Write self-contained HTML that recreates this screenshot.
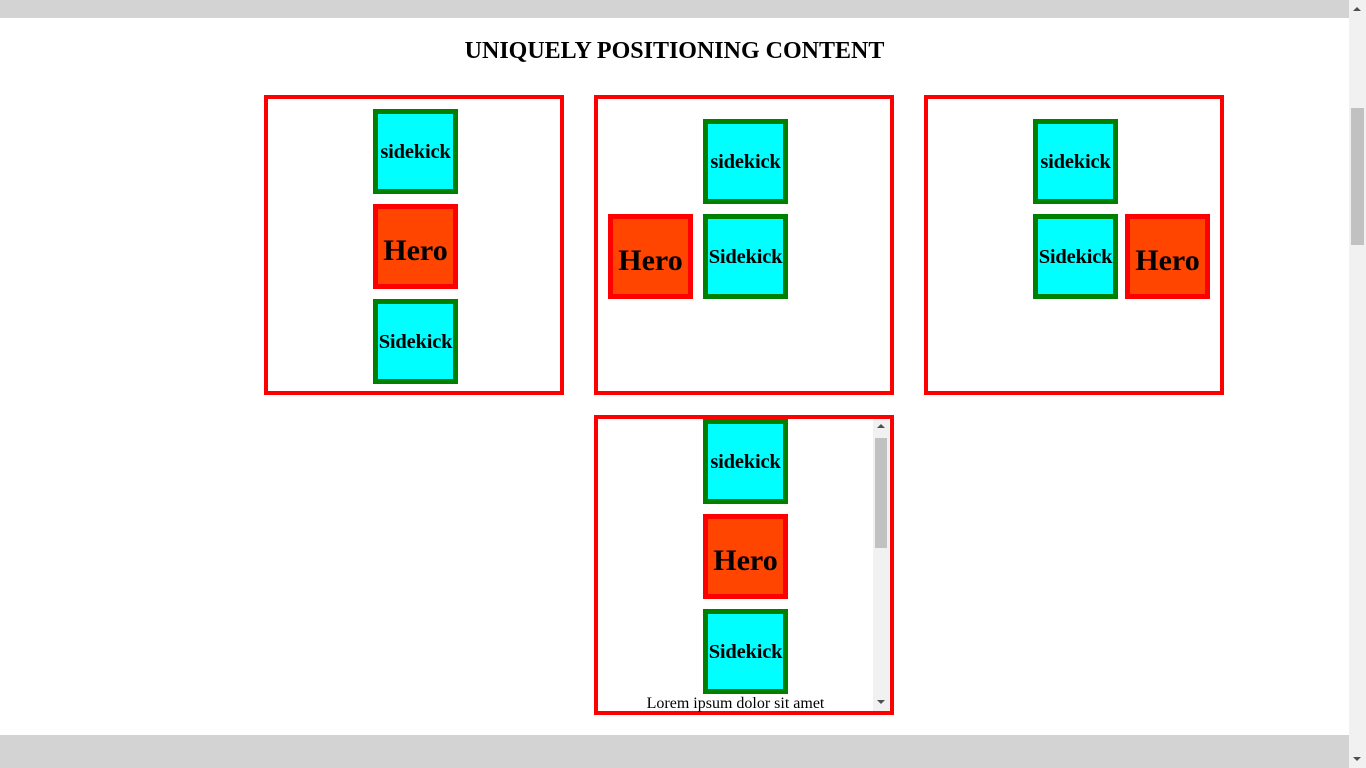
<!DOCTYPE html>
<html><head><style>
body{margin:0;width:1366px;height:768px;position:relative;overflow:hidden;background:#fff;font-family:"Liberation Serif",serif;}
.a{position:absolute;box-sizing:border-box;}
.box{border:4px solid red;width:300px;height:300px;}
.s{width:85px;height:85px;border:5px solid #008000;background:#0ff;font-weight:bold;font-size:20.5px;display:flex;align-items:center;justify-content:center;white-space:nowrap;padding-top:2px;letter-spacing:-0.2px}
.h{width:85px;height:85px;border:5px solid red;background:#ff4500;font-weight:bold;font-size:30px;display:flex;align-items:center;justify-content:center;padding-top:9px;}
</style></head><body>
<div class="a" style="left:0;top:0;width:1366px;height:18px;background:#d3d3d3"></div>
<div class="a" style="left:0;top:735px;width:1366px;height:33px;background:#d3d3d3"></div>
<div class="a" style="left:1349px;top:0;width:17px;height:768px;background:#f1f1f1"></div>
<div class="a" style="left:1351px;top:108px;width:13px;height:137px;background:#c1c1c1"></div>
<div class="a" style="left:1353px;top:7px;width:0;height:0;border-left:4px solid transparent;border-right:4px solid transparent;border-bottom:4px solid #505050"></div>
<div class="a" style="left:1353px;top:757px;width:0;height:0;border-left:4px solid transparent;border-right:4px solid transparent;border-top:4px solid #505050"></div>
<div class="a" style="left:0;top:38px;width:1349px;text-align:center;font-weight:bold;font-size:24px">UNIQUELY POSITIONING CONTENT</div>

<div class="a box" style="left:264px;top:95px"></div>
<div class="a s" style="left:373px;top:109px">sidekick</div>
<div class="a h" style="left:373px;top:204px">Hero</div>
<div class="a s" style="left:373px;top:299px">Sidekick</div>

<div class="a box" style="left:594px;top:95px"></div>
<div class="a s" style="left:703px;top:119px">sidekick</div>
<div class="a h" style="left:608px;top:214px">Hero</div>
<div class="a s" style="left:703px;top:214px">Sidekick</div>

<div class="a box" style="left:924px;top:95px"></div>
<div class="a s" style="left:1033px;top:119px">sidekick</div>
<div class="a s" style="left:1033px;top:214px">Sidekick</div>
<div class="a h" style="left:1125px;top:214px">Hero</div>

<div class="a box" style="left:594px;top:415px"></div>
<div class="a" style="left:873px;top:419px;width:16px;height:292px;background:#f1f1f1"></div>
<div class="a" style="left:875px;top:438px;width:12px;height:110px;background:#c1c1c1"></div>
<div class="a" style="left:877px;top:424px;width:0;height:0;border-left:4px solid transparent;border-right:4px solid transparent;border-bottom:4px solid #505050"></div>
<div class="a" style="left:877px;top:700px;width:0;height:0;border-left:4px solid transparent;border-right:4px solid transparent;border-top:4px solid #505050"></div>
<div class="a s" style="left:703px;top:419px">sidekick</div>
<div class="a h" style="left:703px;top:514px">Hero</div>
<div class="a s" style="left:703px;top:609px">Sidekick</div>
<div class="a" style="left:598px;top:695px;width:275px;text-align:center;font-size:16px;line-height:18px">Lorem ipsum dolor sit amet</div>
</body></html>
